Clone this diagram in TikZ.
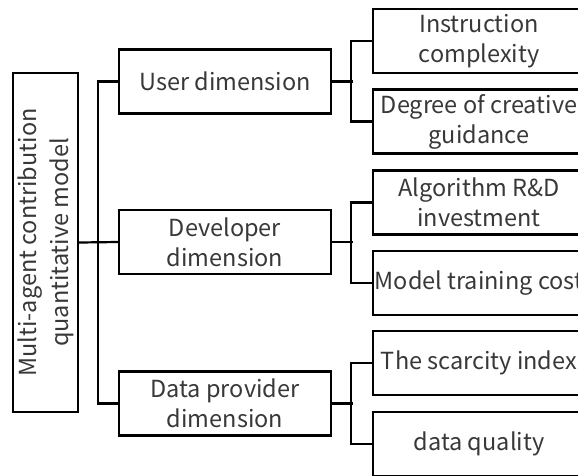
\documentclass[tikz,border=0pt]{standalone}
\usepackage{fontspec}
\setmainfont{Noto Sans CJK SC}
\begin{document}
\newcommand{\cl}[1]{\makebox[0pt]{#1}}
\begin{tikzpicture}[x=1pt,y=1pt,
  box/.style={draw=black, line width=2.4pt, inner sep=0pt, align=center,
    text=black!78, font=\fontsize{23.5}{30}\selectfont},
  rootbox/.style={box, minimum width=65, minimum height=339},
  midbox/.style={box, minimum width=212, minimum height=64},
  leafbox/.style={box, minimum width=212, minimum height=64},
  link/.style={draw=black, line width=2.2pt}]
\useasboundingbox (0,0) rectangle (578,-475);
\clip (0,0) rectangle (578,-475);

% root
\node[rootbox] (root) at (45.5,-242.5) {};
\node[rotate=90, align=center, text=black!78, font=\fontsize{23.5}{32}\selectfont]
  (roottext) at (root.center) {Multi-agent contribution\\quantitative model};

% second level
\node[midbox] (user) at (225,-81.5) {User dimension};
\node[midbox] (dev)  at (225,-242)  {Developer\\dimension};
\node[midbox] (data) at (225,-403.5){Data provider\\dimension};

% leaves
\node[leafbox] (c1) at (479,-41)    {\cl{Instruction}\\\cl{complexity}};
\node[leafbox] (c2) at (479,-121.5) {\cl{Degree of creative}\\\cl{guidance}};
\node[leafbox] (c3) at (479,-202.5) {\cl{Algorithm R\&D}\\\cl{investment}};
\node[leafbox] (c4) at (479,-283)   {\cl{Model training cost}};
\node[leafbox] (c5) at (479,-363)   {\cl{The scarcity index}};
\node[leafbox] (c6) at (479,-444)   {\cl{data quality}};

% root to second level
\draw[link] (root.east) -- (dev.west);
\draw[link] (user.west) -- ++(-20,0) |- (data.west);

% second level to leaves
\foreach \p/\a/\b in {user/c1/c2, dev/c3/c4, data/c5/c6}{
  \draw[link] (\p.east) -- ++(21,0);
  \draw[link] (\a.west) -- ++(-21,0) |- (\b.west);
}
\end{tikzpicture}
\end{document}
